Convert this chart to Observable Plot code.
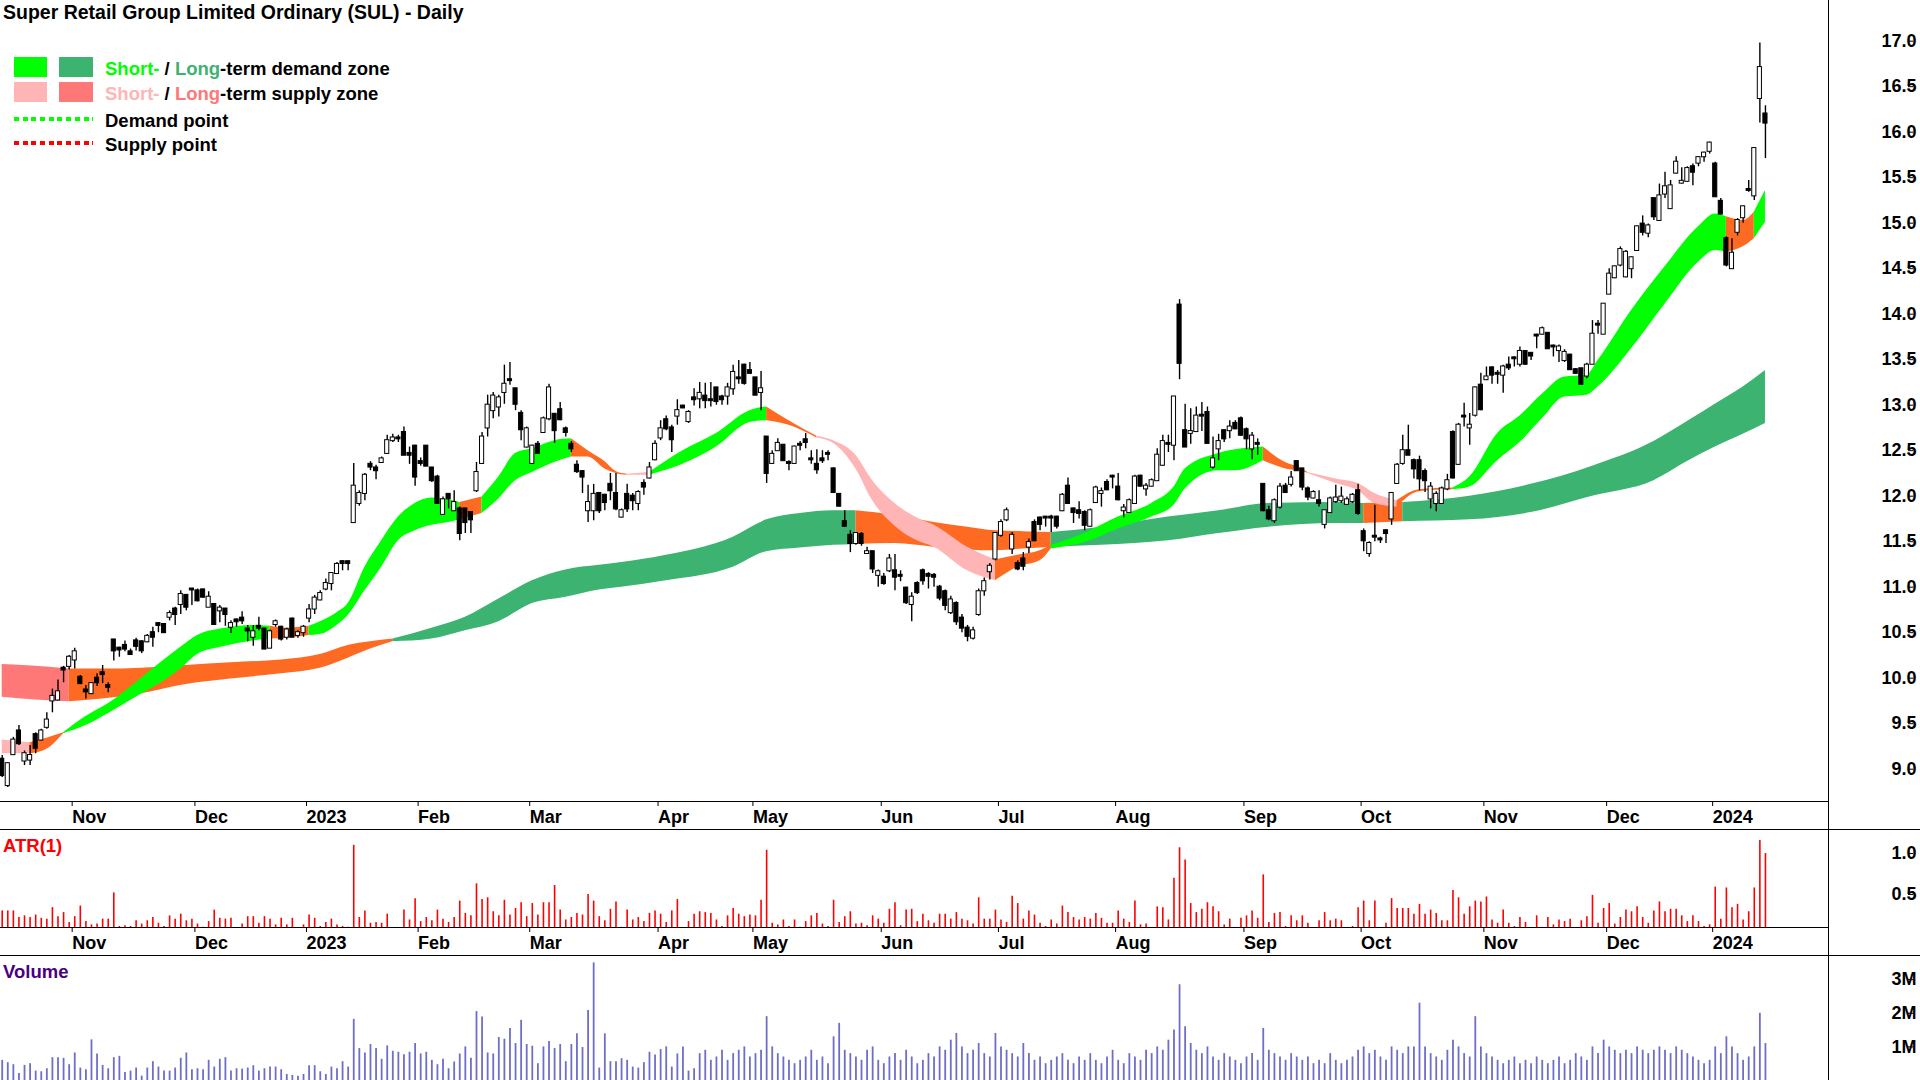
<!DOCTYPE html>
<html><head><meta charset="utf-8">
<script src="https://cdn.jsdelivr.net/npm/d3@7"></script>
<script src="https://cdn.jsdelivr.net/npm/@observablehq/plot@0.6"></script>
<style>
body{margin:0;background:#fff;}
#wrap{position:relative;width:1920px;height:1080px;overflow:hidden;background:#fff;font-family:"Liberation Sans",Arial,sans-serif;font-weight:bold;color:#000;}
.t{position:absolute;white-space:nowrap;line-height:18px;font-size:18.5px;}
.sw{position:absolute;}
.ln{position:absolute;background:#000;}
svg{overflow:visible;}
</style></head><body><div id="wrap"></div>
<script>
// ---------- DATA ----------
const title = "Super Retail Group Limited Ordinary (SUL) - Daily";
const monthTickIdx = [12,34,54,74,94,117,134,157,178,199,222,243,265,287,306];
const monthLabels = ["Nov","Dec","2023","Feb","Mar","Apr","May","Jun","Jul","Aug","Sep","Oct","Nov","Dec","2024"];
const priceTicks = [9,9.5,10,10.5,11,11.5,12,12.5,13,13.5,14,14.5,15,15.5,16,16.5,17];
const atrTicks = [0.5,1.0];
const volTicks = [1,2,3];
const volTickLabels = ["1M","2M","3M"];

// daily candles [open, high, low, close]
const candleOHLC = [
[9.11,9.15,8.91,8.93],[8.82,9.07,8.80,9.06],[9.16,9.35,9.15,9.32],[9.42,9.48,9.26,9.28],[9.09,9.20,9.04,9.17],
[9.10,9.26,9.04,9.15],[9.38,9.40,9.17,9.23],[9.32,9.44,9.31,9.42],[9.46,9.62,9.44,9.54],[9.75,9.88,9.62,9.80],
[9.76,9.98,9.75,9.85],[10.11,10.13,9.95,10.09],[10.13,10.25,10.09,10.23],[10.20,10.33,10.10,10.29],[10.01,10.03,9.93,9.94],
[9.87,9.92,9.77,9.85],[9.83,9.95,9.82,9.94],[10.00,10.05,9.91,9.95],[10.06,10.14,9.94,10.04],[9.92,9.95,9.84,9.90],
[10.42,10.42,10.19,10.30],[10.33,10.34,10.23,10.31],[10.36,10.41,10.29,10.32],[10.29,10.32,10.25,10.26],[10.41,10.44,10.30,10.35],
[10.40,10.41,10.27,10.30],[10.40,10.48,10.39,10.46],[10.50,10.56,10.34,10.45],[10.60,10.60,10.50,10.58],[10.59,10.60,10.49,10.50],
[10.67,10.74,10.63,10.71],[10.76,10.78,10.58,10.70],[10.81,10.96,10.70,10.92],[10.91,10.92,10.74,10.78],[10.98,10.98,10.80,10.97],
[10.96,10.98,10.84,10.85],[10.97,10.98,10.88,10.89],[10.78,10.95,10.78,10.89],[10.81,10.81,10.58,10.59],[10.74,10.80,10.61,10.77],
[10.76,10.76,10.57,10.70],[10.56,10.63,10.49,10.60],[10.64,10.65,10.56,10.62],[10.66,10.73,10.59,10.63],[10.54,10.58,10.40,10.52],
[10.45,10.58,10.35,10.51],[10.57,10.67,10.52,10.55],[10.54,10.54,10.32,10.32],[10.33,10.53,10.33,10.51],[10.59,10.64,10.56,10.62],
[10.56,10.57,10.41,10.43],[10.45,10.55,10.42,10.53],[10.65,10.66,10.45,10.45],[10.47,10.52,10.44,10.50],[10.50,10.58,10.45,10.56],
[10.66,10.81,10.61,10.75],[10.76,10.91,10.70,10.88],[10.86,10.96,10.85,10.93],[10.98,11.09,10.96,11.04],[11.04,11.16,10.96,11.15],
[11.15,11.27,11.14,11.25],[11.28,11.29,11.18,11.26],[11.28,11.28,11.18,11.26],[11.71,12.36,11.70,12.11],[11.92,12.06,11.89,12.03],
[12.03,12.25,11.95,12.23],[12.35,12.38,12.28,12.32],[12.31,12.34,12.18,12.28],[12.37,12.43,12.36,12.41],[12.47,12.67,12.47,12.61],
[12.61,12.68,12.59,12.64],[12.64,12.67,12.59,12.63],[12.70,12.76,12.45,12.45],[12.47,12.54,12.35,12.45],[12.55,12.56,12.11,12.21],
[12.38,12.42,12.33,12.36],[12.55,12.55,12.33,12.33],[12.31,12.31,12.15,12.17],[12.21,12.23,11.92,11.92],[11.80,11.99,11.79,11.96],
[12.02,12.02,11.86,11.97],[11.84,12.06,11.84,11.93],[11.86,11.88,11.51,11.59],[11.86,11.86,11.59,11.71],[11.82,11.83,11.59,11.74],
[12.06,12.37,12.04,12.26],[12.36,12.70,12.35,12.65],[12.75,13.11,12.65,13.00],[12.94,13.14,12.85,13.10],[12.98,13.11,12.87,13.08],
[13.14,13.44,13.01,13.23],[13.28,13.47,13.22,13.27],[13.18,13.18,12.94,13.01],[12.91,12.94,12.61,12.73],[12.54,12.76,12.53,12.74],
[12.36,12.56,12.35,12.55],[12.57,12.60,12.47,12.47],[12.70,12.87,12.69,12.85],[12.85,13.23,12.83,13.19],[12.90,12.90,12.58,12.72],
[12.95,13.03,12.83,12.84],[12.74,12.76,12.65,12.70],[12.57,12.60,12.48,12.52],[12.34,12.39,12.25,12.27],[12.27,12.28,12.03,12.21],
[11.84,12.12,11.71,11.93],[11.84,12.13,11.73,12.02],[12.03,12.04,11.81,11.84],[12.01,12.02,11.84,11.93],[12.13,12.25,11.95,12.06],
[12.03,12.25,11.84,11.86],[11.77,11.86,11.76,11.84],[12.02,12.13,11.82,11.86],[12.00,12.03,11.84,11.95],[11.92,12.06,11.84,12.04],
[12.14,12.18,12.01,12.10],[12.20,12.37,12.19,12.31],[12.40,12.61,12.39,12.57],[12.64,12.83,12.61,12.74],[12.84,12.88,12.72,12.74],
[12.75,12.78,12.48,12.62],[12.88,13.06,12.78,12.94],[12.99,13.00,12.96,12.97],[12.82,12.94,12.80,12.92],[13.08,13.18,12.99,13.06],
[13.07,13.25,12.96,13.13],[13.10,13.24,12.96,13.05],[13.06,13.25,12.98,13.05],[13.19,13.19,13.00,13.04],[13.09,13.11,13.00,13.06],
[13.10,13.24,13.00,13.19],[13.18,13.44,13.11,13.36],[13.30,13.49,13.23,13.29],[13.44,13.45,13.22,13.24],[13.38,13.47,13.34,13.35],
[13.30,13.30,13.11,13.11],[13.14,13.37,12.94,13.18],[12.65,12.65,12.14,12.25],[12.36,12.50,12.35,12.46],[12.50,12.63,12.50,12.58],
[12.56,12.56,12.39,12.39],[12.37,12.39,12.28,12.36],[12.36,12.55,12.36,12.54],[12.57,12.60,12.50,12.56],[12.62,12.69,12.52,12.59],
[12.41,12.50,12.35,12.40],[12.35,12.51,12.24,12.29],[12.41,12.50,12.36,12.39],[12.47,12.50,12.39,12.46],[12.30,12.31,12.03,12.04],
[12.02,12.02,11.88,11.89],[11.72,11.84,11.66,11.67],[11.57,11.62,11.38,11.48],[11.48,11.60,11.46,11.59],[11.58,11.60,11.45,11.48],
[11.37,11.44,11.36,11.39],[11.39,11.39,11.15,11.20],[11.13,11.19,11.00,11.17],[11.11,11.15,11.02,11.04],[11.18,11.36,11.16,11.31],
[11.18,11.36,10.96,11.11],[11.13,11.18,11.06,11.12],[10.99,11.00,10.81,10.83],[10.81,10.94,10.62,10.89],[11.04,11.06,10.92,10.94],
[11.18,11.20,11.02,11.07],[11.14,11.16,10.98,11.12],[11.13,11.15,11.00,11.11],[11.00,11.02,10.85,10.88],[10.95,10.97,10.74,10.80],
[10.72,10.90,10.70,10.86],[10.82,10.84,10.58,10.62],[10.66,10.70,10.50,10.55],[10.55,10.58,10.40,10.46],[10.44,10.56,10.42,10.52],
[10.70,10.98,10.68,10.95],[10.96,11.10,10.90,11.06],[11.17,11.26,11.08,11.23],[11.31,11.60,11.29,11.59],[11.57,11.74,11.55,11.71],
[11.74,11.87,11.72,11.84],[11.42,11.60,11.36,11.57],[11.26,11.29,11.18,11.20],[11.31,11.38,11.18,11.23],[11.44,11.53,11.37,11.49],
[11.71,11.74,11.50,11.51],[11.76,11.77,11.62,11.69],[11.77,11.77,11.66,11.76],[11.77,11.79,11.60,11.76],[11.77,11.78,11.64,11.67],
[11.84,12.03,11.83,12.01],[12.11,12.20,11.92,11.92],[11.86,11.87,11.70,11.82],[11.84,11.94,11.75,11.81],[11.82,11.84,11.62,11.68],
[11.67,11.86,11.66,11.84],[11.93,12.11,11.92,12.09],[12.03,12.09,11.88,12.05],[12.15,12.18,12.06,12.07],[12.22,12.23,12.08,12.21],
[12.10,12.25,11.95,11.96],[11.84,11.91,11.76,11.87],[11.82,11.97,11.81,11.95],[11.92,12.23,11.92,12.21],[12.22,12.23,12.10,12.11],
[12.08,12.14,12.00,12.11],[12.11,12.19,12.10,12.17],[12.17,12.52,12.17,12.45],[12.34,12.67,12.33,12.60],[12.58,12.67,12.48,12.57],
[12.56,13.09,12.39,13.09],[14.10,14.16,13.28,13.46],[12.72,13.01,12.54,12.54],[12.69,12.96,12.57,12.71],[12.71,12.98,12.70,12.88],
[12.89,13.03,12.71,12.88],[12.92,12.98,12.58,12.58],[12.32,12.65,12.30,12.41],[12.52,12.68,12.39,12.60],[12.72,12.72,12.59,12.63],
[12.72,12.83,12.63,12.76],[12.80,12.83,12.73,12.74],[12.85,12.87,12.66,12.67],[12.73,12.75,12.51,12.63],[12.52,12.70,12.40,12.66],
[12.58,12.63,12.45,12.57],[12.13,12.13,11.83,11.84],[11.84,11.89,11.73,11.75],[11.73,11.97,11.70,11.95],[11.88,12.14,11.86,12.10],
[12.11,12.14,12.03,12.04],[12.13,12.27,12.10,12.20],[12.38,12.38,12.28,12.28],[12.30,12.30,12.06,12.10],[12.08,12.10,11.95,11.99],
[11.98,12.06,11.97,12.04],[11.95,12.06,11.88,11.92],[11.69,11.84,11.64,11.84],[11.82,11.99,11.81,11.97],[11.94,12.12,11.92,11.98],
[11.95,12.10,11.92,11.99],[11.91,11.99,11.90,11.96],[11.94,12.03,11.92,12.01],[12.06,12.13,11.79,11.81],[11.61,11.64,11.39,11.51],
[11.37,11.50,11.33,11.48],[11.56,11.90,11.50,11.55],[11.53,11.55,11.48,11.52],[11.62,11.63,11.48,11.59],[11.75,12.04,11.68,12.03],
[12.14,12.36,12.14,12.34],[12.36,12.67,12.34,12.50],[12.50,12.78,12.45,12.45],[12.39,12.41,12.19,12.30],[12.39,12.44,12.06,12.19],
[12.27,12.30,12.04,12.17],[11.97,12.15,11.86,12.10],[11.92,12.05,11.83,12.02],[11.92,12.10,11.92,12.08],[12.08,12.24,12.06,12.17],
[12.70,12.72,12.19,12.20],[12.35,12.80,12.34,12.78],[12.88,13.02,12.76,12.87],[12.75,12.91,12.56,12.78],[12.89,13.20,12.87,13.19],
[13.22,13.35,12.94,12.95],[13.28,13.42,13.27,13.31],[13.41,13.42,13.23,13.33],[13.35,13.38,13.23,13.34],[13.33,13.44,13.13,13.42],
[13.44,13.53,13.38,13.41],[13.52,13.53,13.42,13.51],[13.45,13.64,13.42,13.59],[13.59,13.60,13.44,13.45],[13.57,13.58,13.49,13.54],
[13.77,13.78,13.62,13.76],[13.78,13.86,13.77,13.84],[13.79,13.80,13.62,13.62],[13.65,13.66,13.53,13.64],[13.60,13.66,13.47,13.64],
[13.49,13.61,13.47,13.58],[13.55,13.56,13.38,13.39],[13.39,13.40,13.34,13.35],[13.40,13.40,13.22,13.23],[13.32,13.46,13.29,13.44],
[13.45,13.93,13.45,13.78],[13.89,13.93,13.78,13.88],[13.78,14.11,13.78,14.11],[14.22,14.50,14.22,14.44],[14.40,14.53,14.39,14.52],
[14.54,14.74,14.52,14.71],[14.41,14.70,14.40,14.68],[14.50,14.63,14.39,14.62],[14.70,14.97,14.69,14.96],[14.99,15.08,14.86,14.90],
[14.89,14.99,14.84,14.97],[15.27,15.27,15.03,15.07],[15.03,15.43,15.02,15.30],[15.32,15.56,15.27,15.40],[15.16,15.47,15.15,15.41],
[15.55,15.73,15.54,15.67],[15.44,15.61,15.43,15.46],[15.46,15.62,15.45,15.60],[15.62,15.65,15.41,15.56],[15.66,15.73,15.62,15.72],
[15.73,15.78,15.67,15.77],[15.79,15.89,15.76,15.88],[15.65,15.67,15.29,15.29],[15.24,15.27,15.09,15.10],[14.83,14.85,14.52,14.54],
[14.50,14.83,14.49,14.67],[14.90,15.05,14.86,15.03],[15.06,15.19,15.00,15.18],[15.37,15.47,15.34,15.36],[15.30,15.83,15.25,15.82],
[16.37,16.98,16.10,16.71],[16.20,16.29,15.71,16.10]
];

// zone keypoints [tradingDayIndex, upper, lower]
const longBand = [
[0,10.15,9.79],[6,10.13,9.76],[12,10.10,9.74],[18,10.10,9.77],[25,10.11,9.83],[33,10.14,9.93],[41,10.17,9.99],
[50,10.20,10.05],[57,10.26,10.11],[62,10.36,10.22],[66,10.40,10.32],[70,10.43,10.40],[77,10.55,10.43],[83,10.67,10.52],
[89,10.87,10.62],[95,11.07,10.82],[101,11.19,10.89],[107,11.24,10.97],[111,11.27,11.00],[119,11.35,11.07],[131,11.55,11.22],
[137,11.74,11.39],[143,11.81,11.43],[149,11.84,11.46],[153,11.84,11.47],[160,11.79,11.48],[167,11.71,11.44],[173,11.66,11.41],
[178,11.62,11.40],[183,11.61,11.42],[188,11.60,11.44],[197,11.66,11.46],[209,11.77,11.51],[218,11.84,11.59],[227,11.92,11.66],
[239,11.93,11.70],[244,11.92,11.70],[251,11.93,11.72],[263,12.00,11.74],[274,12.13,11.82],[285,12.33,12.00],[296,12.60,12.17],
[302,12.82,12.38],[307,13.01,12.54],[312,13.20,12.68],[316,13.38,12.80]
];
const shortBand = [
[0,9.32,9.17],[5,9.29,9.17],[8,9.34,9.22],[11,9.40,9.39],[15,9.58,9.48],[19,9.72,9.61],[24,9.95,9.79],[28,10.15,9.93],
[32,10.34,10.10],[35,10.47,10.26],[40,10.55,10.35],[45,10.58,10.41],[48,10.57,10.43],[51,10.55,10.44],[55,10.57,10.47],
[57,10.62,10.48],[60,10.72,10.58],[62,10.82,10.69],[65,11.22,10.96],[68,11.51,11.22],[71,11.77,11.51],[74,11.92,11.62],
[77,11.98,11.68],[80,11.96,11.71],[82,11.93,11.74],[86,11.99,11.81],[89,12.21,11.97],[92,12.47,12.17],[95,12.52,12.26],
[99,12.61,12.37],[102,12.63,12.43],[105,12.50,12.43],[108,12.38,12.30],[110,12.27,12.25],[112,12.24,12.23],[116,12.26,12.23],
[122,12.50,12.35],[128,12.69,12.54],[134,12.94,12.81],[137,12.98,12.83],[141,12.83,12.78],[146,12.66,12.64],[149,12.61,12.58],
[153,12.45,12.30],[156,12.17,11.95],[160,11.92,11.67],[164,11.76,11.51],[167,11.68,11.44],[173,11.44,11.18],[178,11.30,11.07],
[182,11.35,11.22],[186,11.40,11.29],[188,11.46,11.42],[194,11.59,11.49],[200,11.77,11.64],[206,11.92,11.77],[210,12.10,11.90],
[212,12.30,12.08],[218,12.47,12.28],[221,12.51,12.28],[226,12.54,12.39],[230,12.37,12.30],[233,12.30,12.27],[234,12.26,12.25],
[239,12.19,12.14],[243,12.14,12.06],[246,12.03,11.92],[250,11.95,11.88],[254,12.07,12.05],[260,12.09,12.07],[263,12.21,12.10],
[268,12.69,12.39],[272,12.88,12.59],[276,13.12,12.85],[280,13.31,13.09],[284,13.33,13.11],[286,13.49,13.20],[292,14.04,13.62],
[298,14.52,14.11],[304,14.96,14.57],[307,15.10,14.70],[309,15.07,14.68],[312,15.03,14.74],[314,15.12,14.83],[316,15.36,15.01]
];
// zone state segments [fromIndex, toIndex, state]
const longSegs = [[0,12,"lp"],[12,70,"or"],[70,153,"ld"],[153,188,"or"],[188,244,"ld"],[244,251,"or"],[251,316,"ld"]];
const shortSegs = [[0,5,"sp"],[5,11,"or"],[11,48,"sd"],[48,55,"or"],[55,82,"sd"],[82,86,"or"],[86,102,"sd"],[102,112,"or"],
[112,116,"sp"],[116,137,"sd"],[137,146,"or"],[146,178,"sp"],[178,188,"or"],[188,226,"sd"],[226,234,"or"],[234,250,"sp"],
[250,260,"or"],[260,309,"sd"],[309,314,"or"],[314,316,"sd"]];

// ATR(1) per day
const atr = [
0.30,0.30,0.30,0.22,0.24,0.22,0.25,0.21,0.20,0.34, 0.23,0.28,0.16,0.23,0.36,0.17,0.13,0.14,0.20,0.20,
0.52,0.11,0.12,0.11,0.18,0.14,0.18,0.22,0.15,0.11, 0.24,0.20,0.26,0.18,0.20,0.14,0.10,0.17,0.31,0.21,
0.20,0.21,0.09,0.14,0.23,0.23,0.15,0.23,0.20,0.13, 0.21,0.13,0.21,0.08,0.13,0.25,0.21,0.11,0.16,0.20,
0.13,0.11,0.10,1.10,0.22,0.30,0.15,0.16,0.15,0.26, 0.09,0.08,0.31,0.19,0.45,0.17,0.22,0.18,0.31,0.20,
0.16,0.22,0.42,0.27,0.24,0.63,0.44,0.46,0.29,0.24, 0.43,0.25,0.33,0.40,0.23,0.39,0.25,0.40,0.40,0.61,
0.31,0.19,0.22,0.27,0.25,0.50,0.42,0.23,0.18,0.32, 0.41,0.10,0.31,0.19,0.22,0.17,0.27,0.30,0.26,0.16,
0.30,0.44,0.06,0.17,0.26,0.29,0.28,0.27,0.19,0.11, 0.24,0.33,0.26,0.23,0.25,0.24,0.43,1.04,0.15,0.13,
0.19,0.11,0.19,0.10,0.17,0.24,0.27,0.14,0.11,0.43, 0.16,0.23,0.29,0.14,0.15,0.12,0.24,0.20,0.15,0.32,
0.40,0.12,0.31,0.32,0.17,0.26,0.18,0.15,0.26,0.26, 0.20,0.28,0.20,0.18,0.14,0.46,0.20,0.20,0.31,0.19,
0.16,0.48,0.39,0.20,0.30,0.25,0.15,0.11,0.19,0.14, 0.36,0.28,0.22,0.19,0.22,0.20,0.27,0.21,0.15,0.15,
0.30,0.20,0.16,0.42,0.13,0.14,0.09,0.35,0.34,0.19, 0.70,1.07,0.92,0.39,0.28,0.32,0.40,0.35,0.29,0.13,
0.20,0.10,0.21,0.24,0.30,0.21,0.74,0.16,0.27,0.28, 0.11,0.24,0.18,0.24,0.15,0.09,0.18,0.28,0.18,0.20,
0.18,0.09,0.11,0.34,0.42,0.18,0.42,0.07,0.15,0.45, 0.33,0.33,0.33,0.26,0.38,0.26,0.31,0.27,0.18,0.18,
0.55,0.46,0.26,0.35,0.42,0.41,0.47,0.19,0.15,0.31, 0.15,0.11,0.22,0.16,0.09,0.24,0.10,0.22,0.13,0.19,
0.17,0.20,0.06,0.18,0.23,0.49,0.15,0.33,0.39,0.14, 0.22,0.31,0.29,0.35,0.22,0.15,0.30,0.41,0.29,0.32,
0.32,0.24,0.17,0.24,0.17,0.11,0.13,0.59,0.20,0.58, 0.34,0.38,0.19,0.29,0.58,1.16,1.00
];

// Volume per day, millions of shares
const volume = [
0.60,0.53,0.47,0.21,0.45,0.50,0.28,0.26,0.35,0.68, 0.68,0.66,0.47,0.82,0.37,0.32,1.21,0.79,0.45,0.35,
0.68,0.72,0.24,0.28,0.37,0.13,0.37,0.56,0.40,0.28, 0.28,0.37,0.66,0.82,0.32,0.35,0.32,0.60,0.40,0.63,
0.68,0.28,0.35,0.34,0.37,0.44,0.28,0.35,0.40,0.40, 0.32,0.18,0.15,0.13,0.18,0.44,0.44,0.26,0.18,0.40,
0.35,0.56,0.40,1.82,0.95,0.82,1.07,0.95,0.63,1.03, 0.87,0.84,0.77,0.84,1.10,0.79,0.84,0.60,0.47,0.63,
0.35,0.55,0.79,1.00,0.66,2.05,1.89,0.82,0.79,1.28, 1.23,1.55,1.10,1.79,1.07,1.02,0.50,1.00,1.16,0.95,
1.07,0.56,1.07,1.39,0.98,2.08,3.50,0.37,1.39,0.56, 0.56,0.65,0.60,0.40,0.37,0.53,0.84,0.76,0.92,1.00,
0.40,0.79,1.00,0.28,0.35,
0.8,0.9,0.6,0.7,0.9,0.6,0.8,0.9,1.0,0.7,0.8,0.9, 1.9,
1.0,0.8,0.7,0.6,0.5,0.6,0.7,0.9,0.6,0.7,0.5, 1.3,1.7,
0.9,0.8,0.7,0.6,0.9,1.0,0.6,0.5,0.7,0.8,0.6,0.9,0.7,0.5,0.6,0.8,0.7,1.0,0.9,1.2, 1.4,
1.0,0.8,0.9,1.1,0.8,0.7, 1.4,
1.0,0.9,0.8,0.7,1.1,0.8,0.6,0.7,0.5,0.6,0.7,0.8,0.6,0.5,0.7,0.6,0.8,0.6,0.5,0.7,0.9,0.6,0.5,0.8,0.7,0.6,0.9,0.8,1.0,0.9,1.2,
1.5,2.85,1.6,1.1,
0.9,0.8,1.0,0.7,0.6,0.8,0.7,0.6,0.5,0.7,0.8,0.6, 1.55,
0.9,0.8,0.7,0.6,0.8,0.7,0.6,0.7,0.5,0.6,0.5,0.8,0.6,0.5,0.6,0.7,0.9,1.0,0.8,0.9,0.7,0.6,1.0,0.9,0.8,1.0,
1.0,2.3,
1.0,0.8,0.7,0.6,0.9,1.2,1.0,0.8,0.7, 1.9,
1.0,0.8,0.7,0.6,0.5,0.6,0.7,0.5,0.6,0.5,0.7,0.6,0.5,0.6,0.7,0.5,0.6,0.8,0.7,0.6,1.0,
0.8,1.2,1.0,0.9,0.8,0.9,0.8,1.0,0.9,0.8,0.9,1.0,0.9,0.8,1.0,0.9,0.8,0.7,0.6,0.5,
0.6,1.0,0.8,1.3,1.0,0.8,0.6,0.7,1.0,2.0,1.1
];

// ---------- STYLE CONSTANTS ----------
const zoneColors = {sd:"#00FF00", ld:"#3CB371", sp:"#FFB5B5", lp:"#FF7878", or:"#FF6A22"};
const FONT = '"Liberation Sans", Arial, sans-serif';
const X_DOMAIN = [-0.305, 327.3];
const svgStyle = {fontFamily: FONT, fontSize: "18px", fontWeight: "bold", color: "#000", background: "transparent", overflow: "visible"};

// ---------- BUILD ----------
const wrap = document.getElementById("wrap");
const cd = candleOHLC.map((q, i) => ({i, o: q[0], h: q[1], l: q[2], c: q[3]}));
function segPoints(band, segs) {
  const out = [];
  segs.forEach((s, k) => band.filter(p => p[0] >= s[0] && p[0] <= s[1])
    .forEach(p => out.push({i: p[0], hi: p[1], lo: p[2], seg: k, fill: zoneColors[s[2]]})));
  return out;
}
const longPts = segPoints(longBand, longSegs);
const shortPts = segPoints(shortBand, shortSegs);
const atrData = atr.map((v, i) => ({i, v}));
const volData = volume.map((v, i) => ({i, v}));
const monthFmt = d => monthLabels[monthTickIdx.indexOf(d)];

function place(el, top) { el.style.position = "absolute"; el.style.left = "0px"; el.style.top = top + "px"; wrap.appendChild(el); }

const main = Plot.plot({
  width: 1920, height: 829, marginLeft: 0, marginRight: 92, marginTop: 0, marginBottom: 28,
  x: {domain: X_DOMAIN, axis: null}, y: {domain: [8.645, 17.447], axis: null},
  color: {type: "identity"}, style: svgStyle,
  marks: [
    Plot.areaY(longPts, {x: "i", y1: "lo", y2: "hi", z: "seg", fill: "fill", curve: "monotone-x"}),
    Plot.areaY(shortPts, {x: "i", y1: "lo", y2: "hi", z: "seg", fill: "fill", curve: "monotone-x"}),
    Plot.ruleX(cd, {x: "i", y1: "l", y2: "h", stroke: "#000", strokeWidth: 1.4}),
    Plot.rect(cd, {x1: d => d.i - 0.37, x2: d => d.i + 0.37, y1: "o", y2: "c",
      fill: d => d.c >= d.o ? "#fff" : "#000", stroke: "#000", strokeWidth: 1, insetTop: -0.5, insetBottom: -0.5}),
    Plot.axisY(priceTicks, {anchor: "right", tickSize: 5, tickFormat: d => d.toFixed(1), textAnchor: "end", dx: 79, label: null}),
    Plot.axisX(monthTickIdx, {anchor: "bottom", tickSize: 5, tickFormat: monthFmt, textAnchor: "start", dx: 3, label: null})
  ]
});
place(main, 0);

const atrPlot = Plot.plot({
  width: 1920, height: 126, marginLeft: 0, marginRight: 92, marginTop: 0, marginBottom: 28,
  x: {domain: X_DOMAIN, axis: null}, y: {domain: [0.098, 1.293], axis: null}, style: svgStyle,
  marks: [
    Plot.ruleX(atrData, {x: "i", y1: 0, y2: "v", stroke: "#FF0000", strokeWidth: 1.6, clip: true}),
    Plot.axisY(atrTicks, {anchor: "right", tickSize: 5, tickFormat: d => d.toFixed(1), textAnchor: "end", dx: 79, label: null}),
    Plot.axisX(monthTickIdx, {anchor: "bottom", tickSize: 5, tickFormat: monthFmt, textAnchor: "start", dx: 3, label: null})
  ]
});
place(atrPlot, 829);

const volPlot = Plot.plot({
  width: 1920, height: 125, marginLeft: 0, marginRight: 92, marginTop: 0, marginBottom: 0,
  x: {domain: X_DOMAIN, axis: null}, y: {domain: [0, 3.72], axis: null}, style: svgStyle,
  marks: [
    Plot.ruleX(volData, {x: "i", y1: 0, y2: "v", stroke: "#6E6EC8", strokeWidth: 1.8}),
    Plot.axisY(volTicks, {anchor: "right", tickSize: 5, tickFormat: d => volTickLabels[volTicks.indexOf(d)], textAnchor: "end", dx: 79, label: null})
  ]
});
place(volPlot, 955);

// frame lines
function line(l, t, w, h) { const d = document.createElement("div"); d.className = "ln"; Object.assign(d.style, {left: l + "px", top: t + "px", width: w + "px", height: h + "px"}); wrap.appendChild(d); }
line(1827.5, 0, 1.5, 1080);
line(0, 800.5, 1828, 1.5);
line(0, 828.5, 1920, 1.5);
line(0, 926.5, 1828, 1.5);
line(0, 954.5, 1920, 1.5);

// texts & legend
function text(html, l, t, extra) { const d = document.createElement("div"); d.className = "t"; d.innerHTML = html; Object.assign(d.style, {left: l + "px", top: t + "px"}, extra || {}); wrap.appendChild(d); }
function swatch(l, t, w, h, bg) { const d = document.createElement("div"); d.className = "sw"; Object.assign(d.style, {left: l + "px", top: t + "px", width: w + "px", height: h + "px", background: bg}); wrap.appendChild(d); }
text(title, 3, 3, {fontSize: "19.5px"});
swatch(14, 57, 33, 20, zoneColors.sd);
swatch(59, 57, 34, 20, zoneColors.ld);
swatch(14, 82, 33, 20, zoneColors.sp);
swatch(59, 82, 34, 20, zoneColors.lp);
swatch(14, 117, 79, 4, "repeating-linear-gradient(to right, #00FF00 0 5px, transparent 5px 8.7px)");
swatch(14, 141, 79, 4, "repeating-linear-gradient(to right, #FF0000 0 5px, transparent 5px 8.7px)");
text('<span style="color:#00FF00">Short-</span> / <span style="color:#3CB371">Long</span>-term demand zone', 105, 60);
text('<span style="color:#FFB5B5">Short-</span> / <span style="color:#FF7878">Long</span>-term supply zone', 105, 85);
text('Demand point', 105, 111.5);
text('Supply point', 105, 135.5);
text('ATR(1)', 3, 837, {color: "#FF0000"});
text('Volume', 3, 963, {color: "#4B0082"});
</script></body></html>
